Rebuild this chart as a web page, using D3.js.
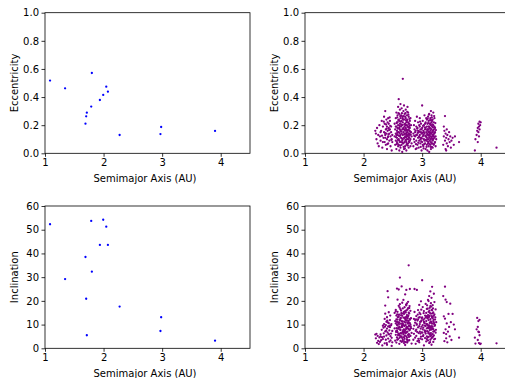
<!DOCTYPE html>
<html><head><meta charset="utf-8">
<script src="https://cdn.jsdelivr.net/npm/d3@7"></script>
<style>html,body{margin:0;padding:0;background:#fff;overflow:hidden}svg{display:block}</style>
</head><body><svg id="c" width="505" height="378"></svg>
<script>
// Near-Earth sample (blue)
const neoA = [1.086,1.343,1.800,2.046,2.074,1.994,1.937,1.789,1.714,1.703,1.691,2.274,2.983,2.971,3.903];
const neoE = [0.517,0.462,0.571,0.474,0.438,0.415,0.379,0.332,0.289,0.263,0.211,0.130,0.187,0.137,0.159];
const neoI = [52.3,29.2,32.3,51.3,43.6,54.2,43.6,53.7,5.5,20.9,38.5,17.6,13.1,7.3,3.2];

// Main belt sample (purple): [a, e, i]
const innerBelt = [[2.20,0.16,5.8],[2.21,0.14,4.2],[2.22,0.10,6.1],[2.23,0.18,2.3],[2.24,0.07,5.2],[2.25,0.13,3.1],[2.26,0.05,1.8],[2.27,0.20,4.6],[2.28,0.12,2.7],[2.29,0.09,5.9],[2.30,0.16,3.4],[2.31,0.23,7.8],[2.32,0.04,1.2],[2.33,0.19,9.5],[2.34,0.11,8.7],[2.35,0.26,10.2],[2.35,0.15,4.9],[2.36,0.08,2.1],[2.36,0.21,12.4],[2.37,0.13,7.1],[2.37,0.30,18.0],[2.38,0.17,9.8],[2.38,0.06,3.6],[2.39,0.24,11.2],[2.39,0.14,5.4],[2.40,0.19,13.1],[2.40,0.10,8.3],[2.40,0.03,1.5],[2.41,0.22,24.1],[2.41,0.16,6.7],[2.42,0.12,9.2],[2.42,0.25,21.5],[2.42,0.07,4.1],[2.43,0.18,10.6],[2.43,0.21,15.2],[2.44,0.14,7.6],[2.44,0.09,2.8],[2.45,0.17,11.9],[2.45,0.23,8.9],[2.46,0.12,5.1],[2.46,0.05,3.3],[2.47,0.19,9.7],[2.47,0.15,6.2],[2.48,0.10,4.4],[2.48,0.02,1.0],[2.49,0.08,7.3],[2.49,0.13,2.5],[2.37,0.11,14.6],[2.33,0.08,3.9],[2.29,0.15,5.0],
  [2.385,0.205,7.4],[2.415,0.115,10.9],[2.435,0.165,5.9],[2.455,0.195,13.8],[2.365,0.145,9.1],[2.345,0.225,6.3],[2.405,0.065,11.7],[2.445,0.255,9.5],[2.395,0.175,2.2],[2.425,0.135,6.0],[2.475,0.095,10.2],[2.315,0.125,4.7]];
const middleBelt = [[2.53,0.12,8.4],[2.53,0.21,14.9],[2.54,0.06,3.2],[2.54,0.17,11.5],[2.55,0.25,15.6],[2.55,0.09,5.7],[2.55,0.14,16.2],[2.56,0.19,7.3],[2.56,0.03,2.4],[2.56,0.29,13.8],[2.57,0.11,9.9],[2.57,0.22,4.6],[2.57,0.16,25.2],[2.58,0.07,6.8],[2.58,0.27,12.1],[2.58,0.13,15.4],[2.59,0.20,3.9],[2.59,0.05,10.7],[2.59,0.33,8.2],[2.60,0.15,24.8],[2.60,0.24,6.1],[2.60,0.10,13.3],[2.60,0.385,17.9],[2.61,0.18,1.9],[2.61,0.02,9.1],[2.61,0.28,14.2],[2.62,0.12,5.3],[2.62,0.21,18.6],[2.62,0.08,11.8],[2.62,0.31,29.8],[2.63,0.16,7.7],[2.63,0.25,3.1],[2.63,0.04,12.6],[2.63,0.35,6.4],[2.64,0.19,10.3],[2.64,0.11,15.9],[2.64,0.27,4.8],[2.65,0.14,8.9],[2.65,0.06,2.7],[2.65,0.23,26.1],[2.65,0.32,11.4],[2.66,0.17,13.7],[2.66,0.09,6.6],[2.66,0.20,19.2],[2.66,0.01,4.3],[2.67,0.53,9.6],[2.67,0.13,7.2],[2.67,0.26,16.8],[2.67,0.22,3.5],[2.68,0.07,12.9],[2.68,0.18,5.9],[2.68,0.30,10.1],[2.68,0.15,20.4],[2.69,0.11,8.0],[2.69,0.24,14.5],[2.69,0.03,6.9],[2.69,0.34,2.2],[2.70,0.19,11.1],[2.70,0.14,17.3],[2.70,0.08,4.0],[2.70,0.28,9.4],[2.71,0.21,13.0],[2.71,0.05,7.5],[2.71,0.16,22.7],[2.71,0.12,1.4],[2.72,0.25,10.8],[2.72,0.09,15.1],[2.72,0.18,6.3],[2.72,0.31,12.3],[2.73,0.13,24.6],[2.73,0.22,8.6],[2.73,0.02,5.0],[2.73,0.17,18.1],[2.74,0.27,3.7],[2.74,0.10,11.6],[2.74,0.20,14.0],[2.74,0.06,9.0],[2.75,0.15,7.0],[2.75,0.24,16.4],[2.75,0.33,12.8],[2.75,0.12,2.9],[2.76,0.19,10.4],[2.76,0.07,13.5],[2.76,0.22,5.6],[2.76,0.29,19.6],[2.77,0.14,35.0],[2.77,0.17,8.1],[2.77,0.04,11.0],[2.77,0.26,6.0],[2.78,0.11,14.7],[2.78,0.21,9.3],[2.78,0.16,17.0],[2.78,0.08,3.4],[2.79,0.23,12.0],[2.79,0.13,7.9],[2.79,0.18,25.0],[2.80,0.10,10.0],[2.80,0.25,5.2],[2.80,0.05,15.8],[2.81,0.15,8.5],[2.81,0.20,12.7],[2.82,0.12,6.5],[2.82,0.07,2.0],[2.56,0.13,12.2],[2.57,0.08,7.4],[2.58,0.18,9.6],[2.59,0.15,5.5],[2.60,0.06,14.1],[2.61,0.23,10.9],[2.62,0.17,8.7],[2.64,0.08,13.9],[2.65,0.20,5.0],[2.67,0.10,11.3],[2.68,0.24,7.8],[2.70,0.11,15.5],[2.71,0.26,6.7],[2.72,0.14,9.8],[2.73,0.08,13.2],[2.74,0.16,4.5],[2.75,0.19,12.5],[2.76,0.13,8.3],[2.77,0.21,15.0],[2.78,0.14,5.8],[2.79,0.09,10.6],[2.63,0.13,16.5],[2.66,0.26,9.0],[2.69,0.17,4.7],[2.74,0.23,18.9],[2.58,0.22,20.5],[2.55,0.19,10.5],[2.76,0.10,16.9],[2.72,0.20,2.6],[2.61,0.09,6.0],
  [2.555,0.115,6.9],[2.565,0.215,11.2],[2.575,0.145,3.6],[2.585,0.095,13.1],[2.595,0.235,8.6],[2.605,0.125,10.2],[2.615,0.195,4.4],[2.625,0.055,7.9],[2.635,0.225,12.8],[2.645,0.155,6.2],[2.655,0.105,14.6],[2.665,0.245,3.0],[2.675,0.175,9.9],[2.685,0.045,15.2],[2.695,0.205,7.0],[2.705,0.165,5.3],[2.715,0.095,11.9],[2.725,0.235,8.1],[2.735,0.145,16.0],[2.745,0.125,2.4],[2.755,0.055,10.7],[2.765,0.185,13.9],[2.775,0.115,4.8],[2.785,0.245,7.6],[2.795,0.155,12.4],[2.805,0.135,9.2],[2.765,0.275,11.6],[2.745,0.295,8.8],[2.715,0.285,15.8],[2.685,0.265,6.5],[2.655,0.285,9.7],[2.625,0.265,12.0],[2.595,0.285,5.9],[2.575,0.255,14.3],[2.705,0.035,12.6],[2.735,0.065,6.8],[2.665,0.075,10.5],[2.615,0.145,17.2],[2.755,0.165,3.3],[2.785,0.195,17.8],[2.645,0.205,14.8],[2.695,0.135,2.9],[2.725,0.115,18.4],[2.775,0.085,9.5],[2.585,0.175,11.0],[2.565,0.065,8.5]];
const outerBelt = [[2.85,0.14,8.2],[2.85,0.05,3.6],[2.86,0.20,12.4],[2.86,0.10,6.1],[2.87,0.17,25.0],[2.87,0.08,15.3],[2.88,0.23,4.5],[2.88,0.12,10.8],[2.89,0.03,7.4],[2.89,0.16,1.9],[2.90,0.19,13.6],[2.90,0.09,5.2],[2.91,0.26,9.9],[2.91,0.13,24.6],[2.92,0.06,11.7],[2.92,0.18,3.0],[2.93,0.11,8.8],[2.93,0.22,16.1],[2.94,0.15,6.4],[2.94,0.04,12.9],[2.95,0.20,18.3],[2.95,0.09,2.5],[2.96,0.13,10.2],[2.96,0.25,7.0],[2.97,0.07,14.4],[2.97,0.17,4.1],[2.98,0.11,11.3],[2.98,0.21,19.8],[2.99,0.02,6.7],[2.99,0.14,9.1],[3.00,0.34,28.7],[3.00,0.18,13.0],[3.00,0.08,3.8],[3.01,0.12,17.4],[3.01,0.23,8.0],[3.02,0.05,5.5],[3.02,0.16,12.0],[3.03,0.10,1.2],[3.03,0.20,15.7],[3.04,0.14,7.6],[3.04,0.27,10.6],[3.05,0.07,4.3],[3.05,0.17,13.8],[3.06,0.12,9.4],[3.06,0.22,18.7],[3.06,0.03,6.2],[3.07,0.15,11.5],[3.07,0.09,2.9],[3.07,0.25,14.9],[3.08,0.19,8.4],[3.08,0.11,5.0],[3.08,0.06,16.6],[3.09,0.14,12.6],[3.09,0.21,7.2],[3.09,0.02,10.1],[3.10,0.17,3.3],[3.10,0.10,14.0],[3.10,0.26,9.6],[3.10,0.13,20.4],[3.11,0.08,6.8],[3.11,0.19,11.9],[3.11,0.23,4.8],[3.11,0.05,15.4],[3.12,0.15,8.9],[3.12,0.11,22.0],[3.12,0.28,13.3],[3.12,0.01,2.2],[3.13,0.18,10.7],[3.13,0.09,5.8],[3.13,0.21,17.1],[3.13,0.13,7.7],[3.14,0.06,12.3],[3.14,0.16,24.0],[3.14,0.25,9.2],[3.14,0.12,3.6],[3.15,0.20,14.6],[3.15,0.08,8.6],[3.15,0.30,11.1],[3.15,0.14,19.0],[3.15,0.03,6.4],[3.16,0.17,1.5],[3.16,0.11,13.6],[3.16,0.22,7.9],[3.16,0.27,21.3],[3.17,0.07,10.4],[3.17,0.15,16.0],[3.17,0.19,4.6],[3.17,0.12,25.9],[3.18,0.24,9.0],[3.18,0.09,12.8],[3.18,0.16,6.0],[3.18,0.04,18.2],[3.19,0.20,11.4],[3.19,0.13,2.7],[3.19,0.29,15.1],[3.19,0.10,8.1],[3.20,0.17,23.0],[3.20,0.06,10.9],[3.20,0.22,5.4],[3.21,0.14,14.3],[3.21,0.11,7.3],[3.21,0.25,19.5],[3.22,0.08,12.1],[3.22,0.18,4.0],[3.22,0.15,9.8],[3.23,0.12,16.4],[3.23,0.05,6.6],[3.24,0.10,11.0],[2.88,0.15,11.9],[2.90,0.13,7.9],[2.93,0.16,12.2],[2.95,0.12,9.3],[2.97,0.10,6.2],[2.99,0.17,11.8],[3.02,0.13,8.7],[3.04,0.09,12.5],[3.05,0.21,6.9],[3.07,0.12,10.3],[3.09,0.17,13.2],[3.10,0.07,8.7],[3.12,0.19,9.7],[3.13,0.14,15.0],[3.14,0.21,5.1],[3.16,0.14,10.6],[3.17,0.23,12.9],[3.18,0.13,14.7],[3.19,0.16,7.0],[3.20,0.12,13.7],[3.21,0.19,10.0],[3.16,0.07,4.2],[3.14,0.10,17.8],[3.11,0.15,19.9],[3.08,0.24,3.9],[3.06,0.18,7.1],[3.03,0.15,11.2],[3.01,0.06,9.8],[2.98,0.15,4.9],[2.96,0.19,13.1],
  [2.865,0.125,9.6],[2.895,0.065,12.2],[2.915,0.175,6.9],[2.935,0.075,4.0],[2.955,0.155,15.0],[2.975,0.045,8.3],[2.995,0.105,12.7],[3.015,0.195,5.1],[3.035,0.065,10.9],[3.055,0.125,7.3],[3.075,0.045,13.6],[3.085,0.165,10.0],[3.095,0.085,4.6],[3.105,0.215,12.9],[3.115,0.125,9.0],[3.125,0.065,15.9],[3.135,0.235,6.1],[3.145,0.175,11.3],[3.155,0.105,5.5],[3.165,0.045,9.3],[3.175,0.205,8.2],[3.185,0.105,16.8],[3.195,0.065,12.1],[3.205,0.145,3.8],[3.215,0.075,9.5],[3.225,0.215,13.0],[3.235,0.165,7.8],[3.105,0.155,6.3],[3.125,0.175,13.8],[3.145,0.045,8.0],[3.165,0.255,16.2],[3.185,0.185,4.9],[3.205,0.265,10.3],[3.095,0.245,16.7],[3.065,0.095,13.1],[3.045,0.185,9.6],[3.025,0.035,14.8],[3.005,0.145,6.6],[2.985,0.085,16.3],[2.965,0.225,11.1],[2.945,0.115,3.2],[2.925,0.145,14.2],[2.905,0.035,10.4],[3.135,0.145,2.6],[3.155,0.235,17.6],[3.175,0.095,13.3],[3.115,0.275,8.5],[3.085,0.135,18.1]];
const cybeles = [[3.36,0.06,22.0],[3.37,0.12,6.5],[3.38,0.16,3.0],[3.39,0.265,26.0],[3.39,0.09,12.5],[3.40,0.14,20.5],[3.40,0.03,8.0],[3.41,0.11,4.2],[3.42,0.17,19.5],[3.42,0.07,10.5],[3.43,0.13,2.5],[3.44,0.05,7.0],[3.45,0.10,14.5],[3.46,0.15,9.0],[3.47,0.08,5.0],[3.48,0.12,18.8],[3.49,0.04,11.0],[3.50,0.09,3.5],[3.52,0.11,14.5],[3.54,0.06,10.0],[3.56,0.12,8.0],[3.63,0.08,4.5],[3.37,0.19,13.5],[3.41,0.02,6.0]];
const hildas = [[3.90,0.02,4.5],[3.91,0.10,2.0],[3.93,0.13,8.0],[3.94,0.16,12.8],[3.95,0.18,3.5],[3.96,0.21,11.5],[3.96,0.15,7.0],[3.97,0.19,2.2],[3.98,0.225,5.5],[3.97,0.12,6.8],[3.99,0.20,1.8],[3.95,0.08,9.0],[3.98,0.17,12.0],[4.00,0.22,2.0]];
const farObjects = [[4.27,0.04,2.1]];

const xTicks = [1,2,3,4];
const eTicks = [0.0,0.2,0.4,0.6,0.8,1.0];
const iTicks = [0,10,20,30,40,50,60];

const neo = neoA.map((a,k)=>({a, e:neoE[k], i:neoI[k]}));
const belt = [].concat(innerBelt, middleBelt, outerBelt, cybeles, hildas, farObjects).map(r=>({a:r[0], e:r[1], i:r[2]}));

const svg = d3.select('#c');
const FONT = 'DejaVu Sans, sans-serif';

function panel(left, top, bottom, data, key, yDomain, yTicks, yFmt, yLabel, color, id){
  const width = 205;
  const x = d3.scaleLinear().domain([1,4.5]).range([left, left+width]);
  const y = d3.scaleLinear().domain(yDomain).range([bottom, top]);
  const g = svg.append('g');
  g.append('clipPath').attr('id', id).append('rect')
    .attr('x', left).attr('y', top).attr('width', width).attr('height', bottom-top);
  g.append('g').attr('clip-path', `url(#${id})`).selectAll('circle').data(data).enter().append('circle')
    .attr('cx', d=>x(d.a)).attr('cy', d=>y(d[key])).attr('r', 1.15).attr('fill', color);
  g.append('rect').attr('x', left).attr('y', top).attr('width', width).attr('height', bottom-top)
    .attr('fill','none').attr('stroke','#000').attr('stroke-width',0.8);
  const xa = g.append('g').attr('transform', `translate(0,${bottom})`)
    .call(d3.axisBottom(x).tickValues(xTicks).tickFormat(d3.format('d')).tickSize(3.5).tickPadding(2.5));
  const ya = g.append('g').attr('transform', `translate(${left},0)`)
    .call(d3.axisLeft(y).tickValues(yTicks).tickFormat(yFmt).tickSize(3.5).tickPadding(2.5));
  [xa, ya].forEach(a=>{
    a.select('.domain').remove();
    a.selectAll('line').attr('stroke','#000').attr('stroke-width',0.8);
    a.selectAll('text').attr('fill','#000').style('font-family', FONT).style('font-size','10px');
  });
  g.append('text').attr('x', left + (x(4.5)-x(1))/2 - 2.5).attr('y', bottom + 29)
    .attr('text-anchor','middle').style('font-family',FONT).style('font-size','10px').attr('fill','#000')
    .text('Semimajor Axis (AU)');
  g.append('text').attr('transform', `translate(${left-27},${(top+bottom)/2}) rotate(-90)`)
    .attr('text-anchor','middle').style('font-family',FONT).style('font-size','10px').attr('fill','#000')
    .text(yLabel);
}

const fE = d3.format('.1f');
const fI = d3.format('d');
panel(45, 12.7, 153.3, neo, 'e', [0,1], eTicks, fE, 'Eccentricity', '#0000ff', 'c1');
panel(305, 12.7, 153.3, belt, 'e', [0,1], eTicks, fE, 'Eccentricity', '#800080', 'c2');
panel(45, 206, 348.3, neo, 'i', [0,60], iTicks, fI, 'Inclination', '#0000ff', 'c3');
panel(305, 206, 348.3, belt, 'i', [0,60], iTicks, fI, 'Inclination', '#800080', 'c4');
</script></body></html>
